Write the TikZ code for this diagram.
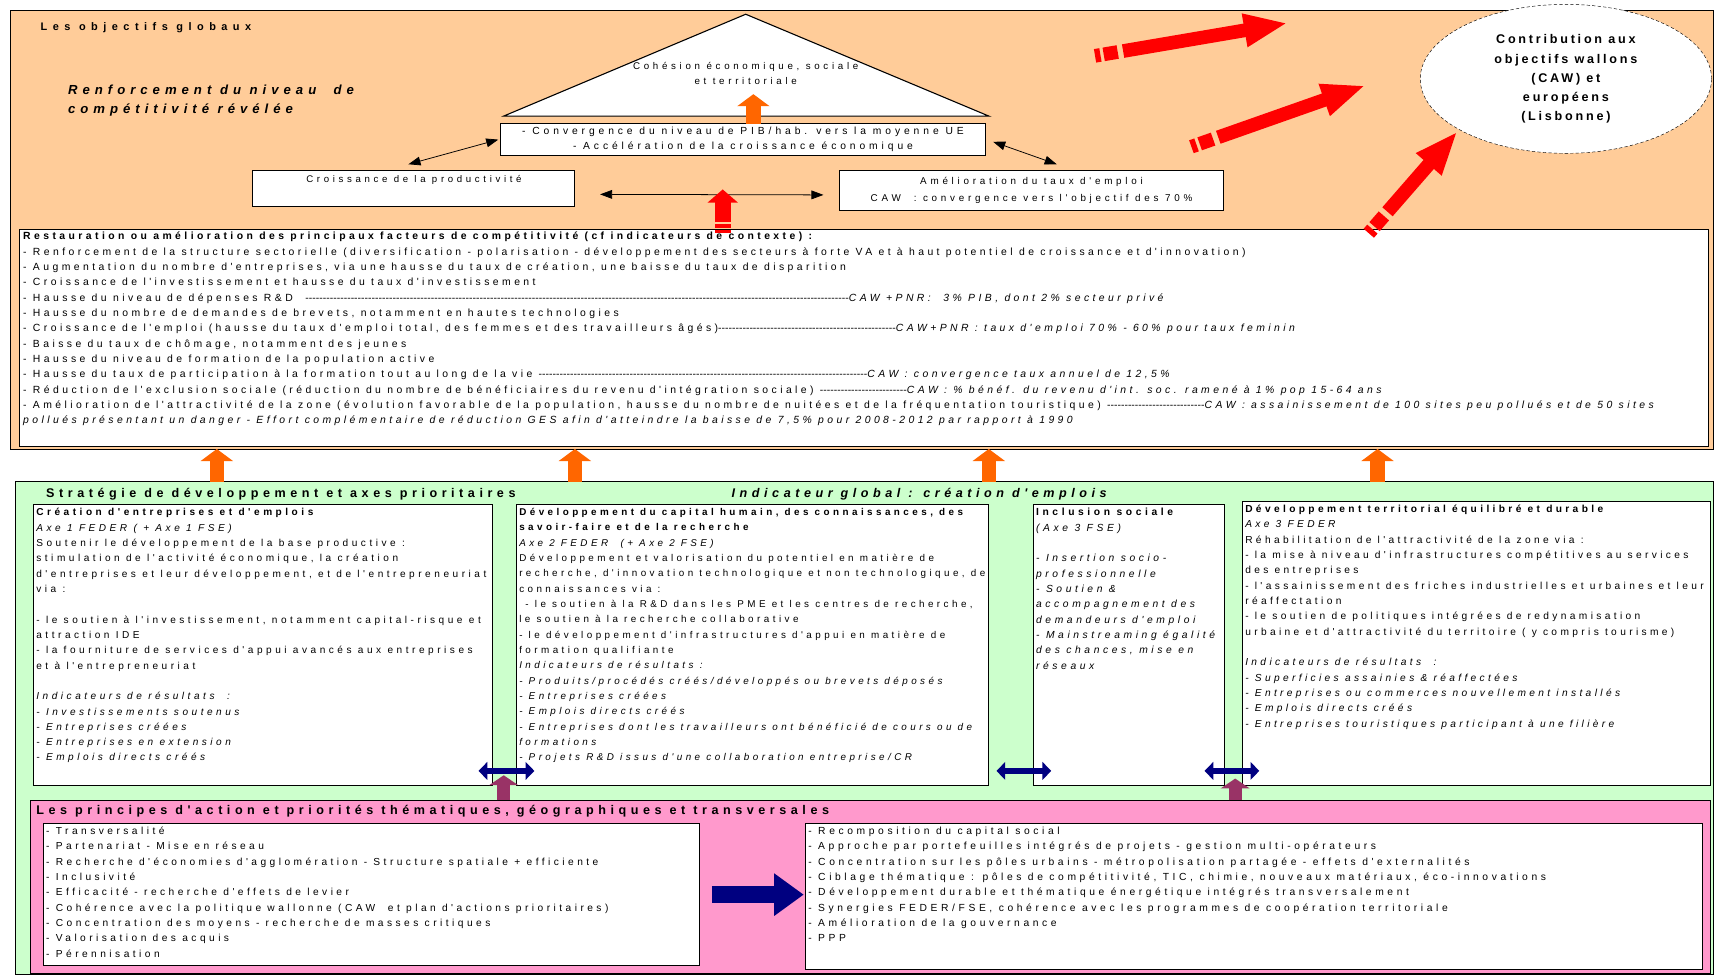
\documentclass[tikz,border=0pt]{standalone}
\usepackage{fontspec}
\setmainfont{Liberation Sans}
\newfontfamily\midfont{Liberation Sans}[LetterSpace=33]
\newfontfamily\axefont{Liberation Sans}[LetterSpace=35]
\newfontfamily\terrfont{Liberation Sans}[LetterSpace=33]
\newfontfamily\pinkfont{Liberation Sans}[LetterSpace=34]
\newfontfamily\pinkRfont{Liberation Sans}[LetterSpace=35]
\newfontfamily\topfont{Liberation Sans}[LetterSpace=38]
\newfontfamily\objfont{Liberation Sans}[LetterSpace=50]
\newfontfamily\headfont{Liberation Sans}[LetterSpace=36]
\newfontfamily\renfont{Liberation Sans}[LetterSpace=38]
\newfontfamily\ovalfont{Liberation Sans}[LetterSpace=22]
\usepackage{tikz}
\usetikzlibrary{positioning,calc,shapes.geometric,arrows.meta}

\definecolor{peach}{RGB}{255,204,153}
\definecolor{mint}{RGB}{204,255,204}
\definecolor{rose}{RGB}{255,153,204}
\definecolor{arrorange}{RGB}{255,102,0}
\definecolor{arrred}{RGB}{255,0,0}
\definecolor{plum}{RGB}{153,51,102}
\definecolor{navyblue}{RGB}{0,0,128}

\begin{document}
\begin{tikzpicture}[
    x=1pt, y=-1pt,
    panel/.style={draw=black, line width=0.6pt, anchor=north west, inner sep=0pt, outer sep=0pt},
    box/.style={draw=black, fill=white, line width=0.9pt, anchor=north west, inner sep=0pt, outer sep=0pt},
    txt/.style={anchor=north west, inner sep=0pt, align=left, font=\midfont\fontsize{9.5}{14}\selectfont},
    ctxt/.style={inner sep=0pt, align=center, font=\topfont\fontsize{9.4}{14}\selectfont},
    thindbl/.style={draw=black, line width=0.7pt, {Triangle[length=11pt,width=8pt]}-{Triangle[length=11pt,width=8pt]}},
    orangeup/.style={draw=arrorange, line width=13pt, -{Triangle[length=11pt,width=29pt]}},
    redfat/.style={draw=arrred, line width=12.5pt, -{Triangle[length=40pt,width=28pt]}},
    redup/.style={draw=arrred, line width=15pt, -{Triangle[length=12pt,width=27pt]}},
    redbar/.style={draw=arrred, line width=12.5pt},
    plumup/.style={draw=plum, line width=12pt, -{Triangle[length=9pt,width=26pt]}},
    navydbl/.style={draw=navyblue, line width=6pt, {Triangle[length=8pt,width=16pt]}-{Triangle[length=8pt,width=16pt]}},
    navyfat/.style={draw=navyblue, line width=16pt, -{Triangle[length=27pt,width=37pt]}}
]
\useasboundingbox (0,0) rectangle (1568,891);

% Panels
\node[panel, fill=peach, minimum width=1556pt, minimum height=401pt] (objectifs) at (9,9) {};
\node[panel, fill=mint, minimum width=1551pt, minimum height=450pt] (strategie) at (14,440) {};
\node[panel, fill=rose, minimum width=1534pt, minimum height=158pt] (principes) at (28,731) {};

% Objectifs globaux
\node[txt, font=\objfont\bfseries\fontsize{10}{12}\selectfont] (titreobj) at (37,20) {Les objectifs globaux};
\node[txt, font=\renfont\bfseries\itshape\fontsize{12}{18}\selectfont] (renfo) at (62,77) {Renforcement du niveau\ \ de\\compétitivité révélée};

\draw[fill=white, line width=1pt] (681,13) -- (460,106) -- (903,106) -- cycle;
\node[ctxt, font=\topfont\fontsize{8.9}{13}\selectfont] (cohesion) at (681,67) {Cohésion économique, sociale\\et territoriale};
\coordinate (cohtip) at (688,86);

\node[box, minimum width=443pt, minimum height=29pt] (pib) at (457,113) {};
\node[ctxt] at (pib.center) {- Convergence du niveau de PIB/hab. vers la moyenne UE\\- Accélération de la croissance économique};
\node[box, minimum width=294pt, minimum height=33pt] (croiss) at (231,156) {};
\node[ctxt, anchor=north, font=\topfont\fontsize{8.8}{14}\selectfont] at ($(croiss.north)+(0,4)$) {Croissance de la productivité};
\node[box, minimum width=350pt, minimum height=36pt] (amel) at (767,156) {};
\node[ctxt, font=\topfont\fontsize{9}{15}\selectfont] at (amel.center) {Amélioration du taux d'emploi\\CAW\ \ : convergence vers l'objectif des 70\%};

\node[ellipse, draw=black, dash pattern=on 3pt off 2pt, fill=white, minimum width=266pt, minimum height=136pt, inner sep=0pt, align=center, font=\ovalfont\bfseries\fontsize{11.5}{17.4}\selectfont] (caw) at (1430,72) {Contribution aux\\objectifs wallons\\(CAW) et\\européens\\(Lisbonne)};

% Facteurs de competitivite
\node[box, minimum width=1542pt, minimum height=198pt] (facteurs) at (18,210) {};
\node[txt] (tfact) at ($(facteurs.north west)+(3,2)$) {%
\textbf{Restauration ou amélioration des principaux facteurs de compétitivité (cf indicateurs de contexte) :}\\
- Renforcement de la structure sectorielle (diversification - polarisation - développement des secteurs à forte VA et à haut potentiel de croissance et d'innovation)\\
- Augmentation du nombre d'entreprises, via une hausse du taux de création, une baisse du taux de disparition\\
- Croissance de l'investissement et hausse du taux d'investissement\\
\makebox[754pt][l]{- Hausse du niveau de dépenses R\&D \ \xleaders\hbox{-}\hfill}\textit{CAW +PNR:\ \ 3\% PIB, dont 2\% secteur privé}\\
- Hausse du nombre de demandes de brevets, notamment en hautes technologies\\
\makebox[797pt][l]{- Croissance de l'emploi (hausse du taux d'emploi total, des femmes et des travailleurs âgés)\xleaders\hbox{-}\hfill}\textit{CAW+PNR : taux d'emploi 70\% - 60\% pour taux feminin}\\
- Baisse du taux de chômage, notamment des jeunes\\
- Hausse du niveau de formation de la population active\\
\makebox[771pt][l]{- Hausse du taux de participation à la formation tout au long de la vie \xleaders\hbox{-}\hfill}\textit{CAW : convergence taux annuel de 12,5\%}\\
\makebox[807pt][l]{- Réduction de l'exclusion sociale (réduction du nombre de bénéficiaires du revenu d'intégration sociale) \xleaders\hbox{-}\hfill}\textit{CAW : \% bénéf. du revenu d'int. soc. ramené à 1\% pop 15-64 ans}\\
\makebox[1079pt][l]{- Amélioration de l'attractivité de la zone (évolution favorable de la population, hausse du nombre de nuitées et de la fréquentation touristique) \xleaders\hbox{-}\hfill}\textit{CAW : assainissement de 100 sites peu pollués et de 50 sites}\\
\textit{pollués présentant un danger - Effort complémentaire de réduction GES afin d'atteindre la baisse de 7,5\% pour 2008-2012 par rapport à 1990}};

% Strategie
\node[txt, font=\headfont\bfseries\fontsize{11.5}{13}\selectfont] (titrestrat) at (42,446) {Stratégie de développement et axes prioritaires};
\node[txt, font=\headfont\bfseries\itshape\fontsize{11.5}{13}\selectfont] (indicglobal) at (668,446) {Indicateur global : création d'emplois};

\node[box, minimum width=419pt, minimum height=256pt] (axe1) at (31,461) {};
\node[txt, font=\axefont\fontsize{9.2}{14}\selectfont] (taxe1) at ($(axe1.north west)+(2,3)$) {%
\textbf{Création d'entreprises et d'emplois}\\
\textit{Axe 1 FEDER ( + Axe 1 FSE)}\\
Soutenir le développement de la base productive :\\
stimulation de l'activité économique, la création\\
d'entreprises et leur développement, et de l'entrepreneuriat\\
via :\\[14pt]
- le soutien à l'investissement, notamment capital-risque et\\
attraction IDE\\
- la fourniture de services d'appui avancés aux entreprises\\
et à l'entrepreneuriat\\[14pt]
\textit{Indicateurs de résultats\ \ :}\\
\textit{- Investissements soutenus}\\
\textit{- Entreprises créées}\\
\textit{- Entreprises en extension}\\
\textit{- Emplois directs créés}};

\node[box, minimum width=431pt, minimum height=256pt] (axe2) at (472,461) {};
\node[txt, font=\axefont\fontsize{9}{14}\selectfont] (taxe2) at ($(axe2.north west)+(2,3)$) {%
\textbf{Développement du capital humain, des connaissances, des}\\
\textbf{savoir-faire et de la recherche}\\
\textit{Axe 2 FEDER\ \ (+ Axe 2 FSE)}\\
Développement et valorisation du potentiel en matière de\\
recherche, d'innovation technologique et non technologique, de\\
connaissances via :\\
\ - le soutien à la R\&D dans les PME et les centres de recherche,\\
le soutien à la recherche collaborative\\
- le développement d'infrastructures d'appui en matière de\\
formation qualifiante\\
\textit{Indicateurs de résultats :}\\
\textit{- Produits/procédés créés/développés ou brevets déposés}\\
\textit{- Entreprises créées}\\
\textit{- Emplois directs créés}\\
\textit{- Entreprises dont les travailleurs ont bénéficié de cours ou de}\\
\textit{formations}\\
\textit{- Projets R\&D issus d'une collaboration entreprise/CR}};

\node[box, minimum width=174pt, minimum height=256pt] (inclusion) at (944,461) {};
\node[txt, font=\axefont\fontsize{9.4}{14}\selectfont] (tincl) at ($(inclusion.north west)+(2,3)$) {%
\textbf{Inclusion sociale}\\
\textit{(Axe 3 FSE)}\\[14pt]
\textit{- Insertion socio-}\\
\textit{professionnelle}\\
\textit{- Soutien \&}\\
\textit{accompagnement des}\\
\textit{demandeurs d'emploi}\\
\textit{- Mainstreaming égalité}\\
\textit{des chances, mise en}\\
\textit{réseaux}};

\node[box, minimum width=427pt, minimum height=259pt] (axe3) at (1135,458) {};
\node[txt, font=\terrfont\fontsize{9.3}{14}\selectfont] (taxe3) at ($(axe3.north west)+(2,3)$) {%
\textbf{Développement territorial équilibré et durable}\\
\textit{Axe 3 FEDER}\\
Réhabilitation de l'attractivité de la zone via :\\
- la mise à niveau d'infrastructures compétitives au services\\
des entreprises\\
- l'assainissement des friches industrielles et urbaines et leur\\
réaffectation\\
- le soutien de politiques intégrées de redynamisation\\
urbaine et d'attractivité du territoire ( y compris tourisme)\\[14pt]
\textit{Indicateurs de résultats\ \ :}\\
\textit{- Superficies assainies \& réaffectées}\\
\textit{- Entreprises ou commerces nouvellement installés}\\
\textit{- Emplois directs créés}\\
\textit{- Entreprises touristiques participant à une filière}};

% Principes d'action
\node[txt, font=\headfont\bfseries\fontsize{11.5}{13}\selectfont] (titreprinc) at (33,735) {Les principes d'action et priorités thématiques, géographiques et transversales};

\node[box, minimum width=599pt, minimum height=130pt] (princL) at (40,752) {};
\node[txt, font=\pinkfont\fontsize{9.3}{14}\selectfont] (tprincL) at ($(princL.north west)+(2,3)$) {%
- Transversalité\\
- Partenariat - Mise en réseau\\
- Recherche d'économies d'agglomération - Structure spatiale + efficiente\\
- Inclusivité\\
- Efficacité - recherche d'effets de levier\\
- Cohérence avec la politique wallonne (CAW\ \ et plan d'actions prioritaires)\\
- Concentration des moyens - recherche de masses critiques\\
- Valorisation des acquis\\
- Pérennisation};

\node[box, minimum width=819pt, minimum height=133pt] (princR) at (736,752) {};
\node[txt, font=\pinkRfont\fontsize{9.4}{14}\selectfont] (tprincR) at ($(princR.north west)+(2,3)$) {%
- Recomposition du capital social\\
- Approche par portefeuilles intégrés de projets - gestion multi-opérateurs\\
- Concentration sur les pôles urbains - métropolisation partagée - effets d'externalités\\
- Ciblage thématique : pôles de compétitivité, TIC, chimie, nouveaux matériaux, éco-innovations\\
- Développement durable et thématique énergétique intégrés transversalement\\
- Synergies FEDER/FSE, cohérence avec les programmes de coopération territoriale\\
- Amélioration de la gouvernance\\
- PPP};

% Thin double arrows
\draw[thindbl] ($(croiss.north)+(-5,-6)$) -- ($(pib.west)+(-2,0)$);
\draw[thindbl] ($(pib.east)+(7,2)$) -- ($(amel.north)+(23,-6)$);
\draw[thindbl] ($(croiss.east)+(23,5)$) -- ($(amel.west)+(-15,4)$);

% Orange arrows
\draw[orangeup] (688,0 |- pib.north) -- (cohtip);
\foreach \x in {198,525,903,1258}
    \draw[orangeup] (\x,0 |- strategie.north) -- (\x,0 |- objectifs.south);

% Red arrows with striped tails
\coordinate (rs0) at (660,213);
\coordinate (rt0) at (660,173);
\draw[redbar, line width=15pt] (rs0) -- ($(rs0)!3pt!(rt0)$);
\draw[redbar, line width=15pt] ($(rs0)!5pt!(rt0)$) -- ($(rs0)!8pt!(rt0)$);
\draw[redup] ($(rs0)!10pt!(rt0)$) -- (rt0);

\coordinate (rs1) at (1000,51);
\coordinate (rt1) at (1176,21);
\draw[redbar] (rs1) -- ($(rs1)!5pt!(rt1)$);
\draw[redbar] ($(rs1)!8pt!(rt1)$) -- ($(rs1)!21pt!(rt1)$);
\draw[redfat] ($(rs1)!26pt!(rt1)$) -- (rt1);

\coordinate (rs2) at (1088,134);
\coordinate (rt2) at (1247,78);
\draw[redbar] (rs2) -- ($(rs2)!5pt!(rt2)$);
\draw[redbar] ($(rs2)!8pt!(rt2)$) -- ($(rs2)!21pt!(rt2)$);
\draw[redfat] ($(rs2)!26pt!(rt2)$) -- (rt2);

\coordinate (rs3) at (1250,213);
\coordinate (rt3) at (1331,120);
\draw[redbar] (rs3) -- ($(rs3)!5pt!(rt3)$);
\draw[redbar] ($(rs3)!8pt!(rt3)$) -- ($(rs3)!21pt!(rt3)$);
\draw[redfat] ($(rs3)!26pt!(rt3)$) -- (rt3);

% Navy arrows between axes
\draw[navydbl] ($(axe1.south east)+(-13,-13)$) -- ($(axe2.south west)+(16,-13)$);
\draw[navydbl] ($(axe2.south east)+(7,-13)$) -- ($(inclusion.south west)+(16,-13)$);
\draw[navydbl] ($(inclusion.south east)+(-18,-13)$) -- ($(axe3.south west)+(15,-13)$);

% Plum arrows
\draw[plumup] (460,0 |- principes.north) -- ($(460,0 |- axe1.south)+(0,-9)$);
\draw[plumup] (1128,0 |- principes.north) -- ($(1128,0 |- axe3.south)+(0,-6)$);

% Navy arrow between principles
\draw[navyfat] ($(princL.east)+(11,0)$) -- ($(princR.west)+(-2,-1.5)$);

\end{tikzpicture}
\end{document}
